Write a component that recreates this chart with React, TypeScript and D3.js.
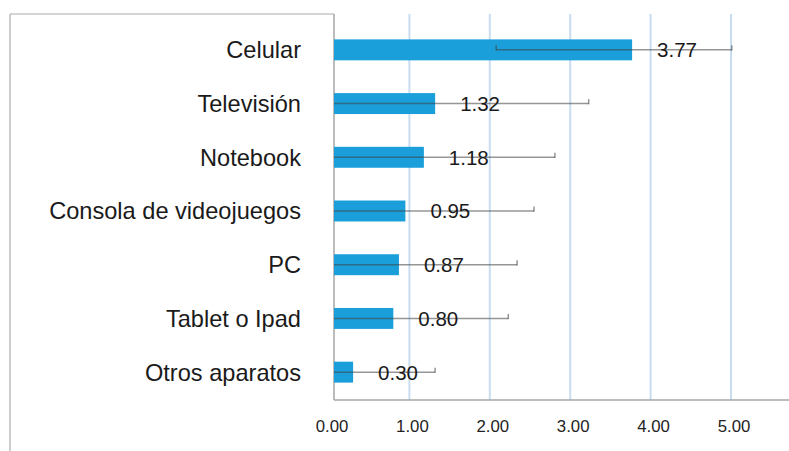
import React from "react";
import * as d3 from "d3";

const categories = ["Celular", "Televisión", "Notebook", "Consola de videojuegos", "PC", "Tablet o Ipad", "Otros aparatos"];
const values = [3.77, 1.32, 1.18, 0.95, 0.87, 0.80, 0.30];
const errLow = [2.08, -1.0, -0.6, -0.7, -0.6, -0.6, -0.7];
const errHigh = [5.01, 3.23, 2.81, 2.55, 2.34, 2.23, 1.32];
const tickValues = [0, 1, 2, 3, 4, 5];

const W = 789;
const H = 451;
const axisX = 334;
const baseY = 400;
const topY = 14;

export default function App() {
  const x = d3.scaleLinear().domain([0, 5]).range([329, 731]);
  const y = d3.scaleBand<string>().domain(categories).range([23, 399]).paddingInner(0.61).paddingOuter(0.305);
  const bh = y.bandwidth();
  const fmt = d3.format(".2f");
  const font = "'Liberation Sans', Arial, sans-serif";
  const clampX = (v: number) => Math.max(axisX, x(v));

  return (
    <svg width={W} height={H} style={{ position: "absolute", left: 0, top: 0, display: "block", background: "#fff" }}>
      <line x1={10} x2={10} y1={topY} y2={H} stroke="#ababab" strokeWidth={1.2} />
      <line x1={10} x2={axisX} y1={topY} y2={topY} stroke="#ababab" strokeWidth={1.2} />
      {tickValues.filter((t) => t > 0).map((t) => (
        <line key={"g" + t} x1={x(t)} x2={x(t)} y1={topY} y2={baseY} stroke="#c9ddf2" strokeWidth={2} />
      ))}
      <line x1={axisX} x2={axisX} y1={topY} y2={baseY} stroke="#a6a6a6" strokeWidth={1.5} />
      <line x1={axisX} x2={W} y1={baseY} y2={baseY} stroke="#a6a6a6" strokeWidth={1.5} />
      {categories.map((c, i) => (
        <rect key={"b" + c} x={axisX} y={y(c)!} width={x(values[i]) - axisX} height={bh} fill="#1a9fda" />
      ))}
      {categories.map((c, i) => {
        const cy = y(c)! + bh / 2;
        const lo = clampX(errLow[i]);
        const hi = x(errHigh[i]);
        return (
          <g key={"e" + c} stroke="#404040" strokeOpacity={0.55} strokeWidth={1.5} fill="none">
            <line x1={lo} x2={hi} y1={cy} y2={cy} />
            {errLow[i] > 0 && <line x1={lo} x2={lo} y1={cy - 4.5} y2={cy + 0.7} />}
            <line x1={hi} x2={hi} y1={cy - 4.5} y2={cy + 0.7} />
          </g>
        );
      })}
      {categories.map((c, i) => (
        <text key={"v" + c} x={x(values[i]) + 25} y={y(c)! + bh / 2} dy="0.36em" fontFamily={font} fontSize={20.5} fill="#1a1a1a">
          {fmt(values[i])}
        </text>
      ))}
      {categories.map((c) => (
        <text key={"c" + c} x={301} y={y(c)! + bh / 2} dy="0.36em" textAnchor="end" fontFamily={font} fontSize={23.6} fill="#1a1a1a">
          {c}
        </text>
      ))}
      {tickValues.map((t) => (
        <text key={"t" + t} x={x(t) + 3} y={432} textAnchor="middle" fontFamily={font} fontSize={16.8} fill="#222">
          {fmt(t)}
        </text>
      ))}
    </svg>
  );
}
